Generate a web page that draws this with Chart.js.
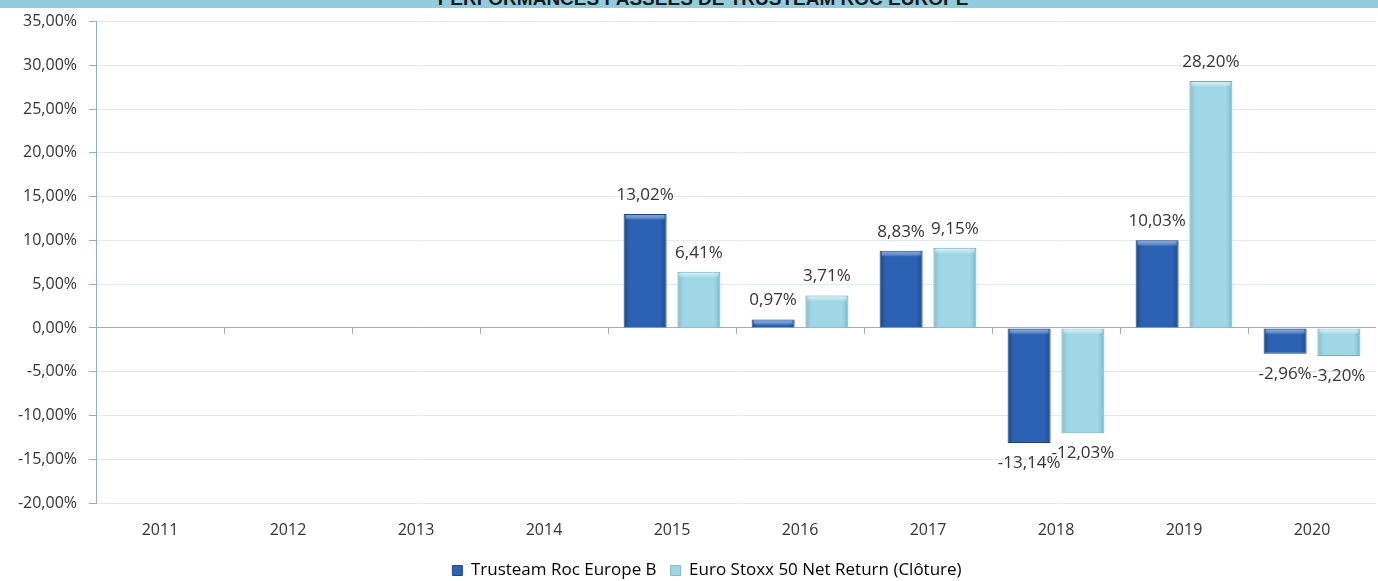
<!DOCTYPE html>
<html>
<head>
<meta charset="utf-8">
<script src="https://cdn.jsdelivr.net/npm/chart.js@4.4.0/dist/chart.umd.min.js"></script>
<style>
  html, body { margin: 0; padding: 0; background: #fff; overflow: hidden; }
  #wrap { position: relative; width: 1378px; height: 581px; }
  #titleBar { position: absolute; left: 0; top: 0; width: 1378px; height: 8px; background: #92ccdc; overflow: hidden; z-index: 2; }
  #titleBar span { position: absolute; left: 0; width: 1406px; top: -11px; text-align: center; font: bold 19px Arial, "Liberation Sans", sans-serif; line-height: 19px; color: #1a1a1a; }
</style>
</head>
<body>
<div id="wrap">
  <div id="titleBar"><span>PERFORMANCES PASSEES DE TRUSTEAM ROC EUROPE</span></div>
  <canvas id="myChartBar" width="1378" height="581"></canvas>
</div>
<script>
// data
let years = ['2011', '2012', '2013', '2014', '2015', '2016', '2017', '2018', '2019', '2020'];
let fundLabel = 'Trusteam Roc Europe B';
let indexLabel = 'Euro Stoxx 50 Net Return (Clôture)';
let fundValues = [null, null, null, null, 13.02, 0.97, 8.83, -13.14, 10.03, -2.96];
let indexValues = [null, null, null, null, 6.41, 3.71, 9.15, -12.03, 28.20, -3.20];
let yMin = -20, yMax = 35, yStep = 5;

function fmtPct(v){
    return v.toFixed(2).replace('.', ',') + '%';
}

// colours per dataset: edge, middle, top highlight, border
let barColors = [
    {edge: '#1d4b90', mid: '#2c62b2', top: '#6d9ddc', border: '#1a4380'},
    {edge: '#7fbccd', mid: '#9ed6e6', top: '#d2f0f7', border: '#74aebf'}
];

let gradientPlugin = {
    id: 'barGradient',
    afterLayout: function(chart){
        // legend sits a bit right of the centre in the original
        if(chart.legend){
            chart.legend.left += 19;
            chart.legend.right += 19;
        }
    },
    beforeDatasetsDraw: function(chart){
        let ctx = chart.ctx;
        chart.data.datasets.forEach(function(ds, i){
            let meta = chart.getDatasetMeta(i);
            let c = barColors[i];
            meta.data.forEach(function(bar, j){
                if(ds.data[j] === null) return;
                let g = ctx.createLinearGradient(bar.x - bar.width / 2, 0, bar.x + bar.width / 2, 0);
                g.addColorStop(0, c.edge);
                g.addColorStop(0.15, c.mid);
                g.addColorStop(0.85, c.mid);
                g.addColorStop(1, c.edge);
                bar.options.backgroundColor = g;
            });
        });
    },
    afterDatasetsDraw: function(chart){
        let ctx = chart.ctx;
        // bevel highlight on top of each bar
        chart.data.datasets.forEach(function(ds, i){
            let meta = chart.getDatasetMeta(i);
            meta.data.forEach(function(bar, j){
                if(ds.data[j] === null) return;
                let left = bar.x - bar.width / 2;
                let top = Math.min(bar.y, bar.base);
                let h = Math.min(6, Math.abs(bar.base - bar.y) - 1);
                ctx.save();
                let g = ctx.createLinearGradient(0, top, 0, top + h);
                g.addColorStop(0, barColors[i].top);
                g.addColorStop(1, 'rgba(255,255,255,0)');
                ctx.fillStyle = g;
                ctx.fillRect(left + 2, top + 1, bar.width - 4, h);
                ctx.restore();
            });
        });
        // small category ticks under the zero line
        let xs = chart.scales.x;
        let y0 = chart.scales.y.getPixelForValue(0);
        ctx.save();
        ctx.strokeStyle = '#8fb3c6';
        ctx.lineWidth = 1;
        for(let k = 1; k < years.length; k++){
            let px = Math.round((xs.getPixelForValue(k - 1) + xs.getPixelForValue(k)) / 2) + 0.5;
            ctx.beginPath();
            ctx.moveTo(px, y0);
            ctx.lineTo(px, y0 + 6);
            ctx.stroke();
        }
        ctx.restore();
    },
    afterDraw: function(chart){
        // data labels
        let ctx = chart.ctx;
        ctx.save();
        ctx.font = '17px "Open Sans", sans-serif';
        ctx.fillStyle = '#333';
        ctx.textAlign = 'center';
        ctx.textBaseline = 'middle';
        chart.data.datasets.forEach(function(ds, i){
            let meta = chart.getDatasetMeta(i);
            meta.data.forEach(function(bar, j){
                let v = ds.data[j];
                if(v === null) return;
                let y = v >= 0 ? bar.y - 19 : bar.y + 20;
                ctx.fillText(fmtPct(v), bar.x, y);
            });
        });
        ctx.restore();
    }
};

let canvas = document.getElementById('myChartBar');
let myChartBar = new Chart(canvas, {
    type: 'bar',
    data: {
        labels: years,
        datasets: [
            {
                label: fundLabel,
                data: fundValues,
                backgroundColor: function(c){ return barColors[c.datasetIndex].mid; },
                borderColor: barColors[0].border,
                borderWidth: 1,
                categoryPercentage: 0.84,
                barPercentage: 0.8
            },
            {
                label: indexLabel,
                data: indexValues,
                backgroundColor: function(c){ return barColors[c.datasetIndex].mid; },
                borderColor: barColors[1].border,
                borderWidth: 1,
                categoryPercentage: 0.84,
                barPercentage: 0.8
            }
        ]
    },
    options: {
        responsive: false,
        animation: false,
        layout: {
            padding: {left: 0, right: 2, top: 21, bottom: -8}
        },
        plugins: {
            title: {display: false},
            tooltip: {enabled: false},
            legend: {
                position: 'bottom',
                labels: {
                    font: {size: 17, family: '"Open Sans", sans-serif'},
                    color: '#333',
                    boxWidth: 10,
                    boxHeight: 10,
                    padding: 14,
                    generateLabels: function(chart){
                        return chart.data.datasets.map(function(ds, i){
                            return {
                                text: ds.label,
                                fillStyle: barColors[i].mid,
                                strokeStyle: barColors[i].edge,
                                lineWidth: 1,
                                datasetIndex: i
                            };
                        });
                    }
                }
            }
        },
        scales: {
            x: {
                grid: {display: false, drawTicks: false},
                border: {display: false},
                ticks: {
                    padding: 18,
                    color: '#333',
                    font: {size: 16, family: '"Open Sans", sans-serif'}
                },
                afterFit: function(scale){
                    scale.height = 45;
                }
            },
            y: {
                min: yMin,
                max: yMax,
                ticks: {
                    stepSize: yStep,
                    padding: 12,
                    color: '#333',
                    font: {size: 16, family: '"Open Sans", sans-serif'},
                    callback: function(v){ return fmtPct(v); }
                },
                grid: {
                    color: function(c){ return c.tick && c.tick.value === 0 ? '#8fb3c6' : '#e0ebf1'; },
                    tickLength: 7,
                    tickColor: '#8fb3c6'
                },
                border: {display: true, color: '#8fb3c6'},
                afterFit: function(scale){
                    scale.width = 96;
                }
            }
        }
    },
    plugins: [gradientPlugin]
});
</script>
</body>
</html>
